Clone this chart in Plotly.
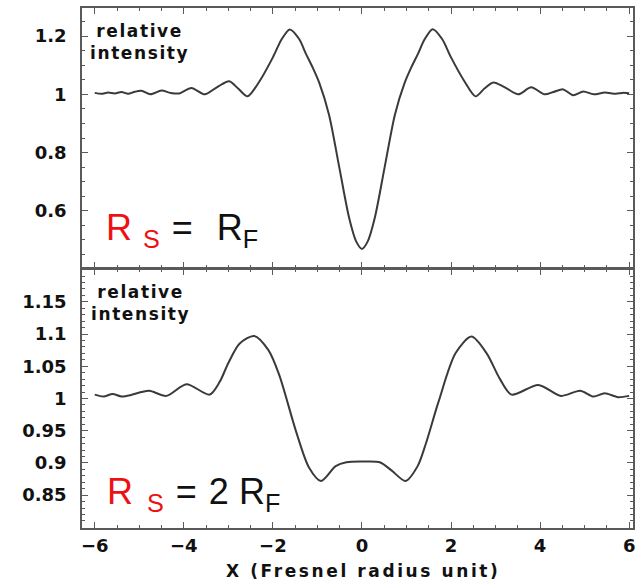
import plotly.graph_objects as go

# ---- data ----
x_top = [-6.0, -5.85, -5.7, -5.55, -5.4, -5.25, -5.1, -4.95, -4.75, -4.5, -4.3, -4.1,
         -3.83, -3.53, -3.25, -2.98, -2.78, -2.57, -2.3, -2.0, -1.8, -1.62, -1.41,
         -1.26, -1.1, -0.96, -0.74, -0.51, -0.29, -0.13, 0.0,
         0.13, 0.29, 0.51, 0.74, 0.96, 1.1, 1.26, 1.41, 1.59, 1.8, 2.0, 2.3, 2.55,
         2.75, 2.95, 3.2, 3.51, 3.8, 4.1, 4.3, 4.52, 4.74, 4.97, 5.2, 5.45, 5.7,
         5.85, 6.0]
y_top = [1.005, 1.002, 1.006, 1.003, 1.008, 1.002, 1.009, 1.012, 1.0, 1.013, 1.005, 1.003,
         1.022, 1.0, 1.025, 1.045, 1.02, 0.993, 1.045, 1.127, 1.19, 1.223, 1.19,
         1.14, 1.09, 1.04, 0.93, 0.75, 0.577, 0.495, 0.469,
         0.495, 0.577, 0.75, 0.93, 1.04, 1.09, 1.14, 1.19, 1.224, 1.19, 1.127, 1.045, 0.993,
         1.02, 1.041, 1.025, 1.0, 1.024, 1.0, 1.008, 1.017, 0.997, 1.01, 1.0, 1.006, 1.002,
         1.005, 1.004]

x_bot = [-6.0, -5.8, -5.6, -5.4, -5.2, -4.95, -4.77, -4.39, -3.94, -3.42, -3.2, -3.0,
         -2.75, -2.42, -2.1, -1.86, -1.48, -1.19, -0.92, -0.59, -0.35, 0.0, 0.4, 0.67,
         0.98, 1.25, 1.43, 1.72, 2.1, 2.46, 2.8, 3.1, 3.36, 3.96, 4.47, 4.9, 5.2, 5.45,
         5.75, 6.0]
y_bot = [1.006, 1.003, 1.007, 1.003, 1.005, 1.01, 1.012, 1.004, 1.022, 1.006, 1.025, 1.055,
         1.085, 1.097, 1.075, 1.037, 0.949, 0.893, 0.872, 0.895, 0.901, 0.902, 0.901, 0.888,
         0.872, 0.895, 0.929, 0.995, 1.07, 1.096, 1.07, 1.03, 1.006, 1.021, 1.004, 1.012,
         1.003, 1.008, 1.002, 1.004]

x_ticks = [-6, -4, -2, 0, 2, 4, 6]
y_top_ticks = [0.6, 0.8, 1.0, 1.2]
y_bot_ticks = [0.85, 0.9, 0.95, 1.0, 1.05, 1.1, 1.15]

x_range = [-6.286, 6.086]
y_top_range = [0.4034, 1.2966]
y_bot_range = [0.799, 1.2008]

LINE = "#3a3a3a"
AX = "#5a5a5a"
TICKFONT = dict(family="DejaVu Sans", size=18, color="#111111", weight="bold")

fig = go.Figure()
fig.add_trace(go.Scatter(x=x_top, y=y_top, mode="lines", xaxis="x", yaxis="y",
                         line=dict(color=LINE, width=2, shape="spline", smoothing=0.8),
                         showlegend=False, hoverinfo="skip"))
fig.add_trace(go.Scatter(x=x_bot, y=y_bot, mode="lines", xaxis="x2", yaxis="y2",
                         line=dict(color=LINE, width=2, shape="spline", smoothing=0.8),
                         showlegend=False, hoverinfo="skip"))

common_x = dict(range=x_range, showline=True, linecolor=AX, linewidth=1.5, mirror="ticks",
                ticks="inside", ticklen=6, tickcolor=AX, tickwidth=1.2,
                tickmode="array", tickvals=x_ticks,
                minor=dict(ticks="inside", dtick=0.5, tick0=0, ticklen=3, tickcolor=AX,
                           tickwidth=1),
                showgrid=False, zeroline=False, tickfont=TICKFONT, fixedrange=True)
common_y = dict(showline=True, linecolor=AX, linewidth=1.5, mirror="ticks",
                ticks="inside", ticklen=6, tickcolor=AX, tickwidth=1.2, tickmode="array",
                showgrid=False, zeroline=False, tickfont=TICKFONT, fixedrange=True,
                ticklabelstandoff=10)

fig.update_layout(
    width=637, height=582,
    margin=dict(l=82, r=2, t=8, b=54),
    paper_bgcolor="white", plot_bgcolor="white",
    xaxis=dict(common_x, anchor="y", showticklabels=False),
    yaxis=dict(common_y, domain=[0.5, 1.0], range=y_top_range, tickvals=y_top_ticks,
               ticktext=[("%g" % v) for v in y_top_ticks],
               minor=dict(ticks="inside", dtick=0.05, tick0=0, ticklen=3, tickcolor=AX,
                          tickwidth=1)),
    xaxis2=dict(common_x, anchor="y2", ticklabelstandoff=1),
    yaxis2=dict(common_y, domain=[0.0, 0.498], range=y_bot_range, tickvals=y_bot_ticks,
                ticktext=[("%g" % v) for v in y_bot_ticks],
                minor=dict(ticks="inside", dtick=0.01, tick0=0, ticklen=3, tickcolor=AX,
                           tickwidth=1)),
)

SMALL = dict(family="DejaVu Sans", size=17, color="#111111", weight="bold")
rel = "<span style='letter-spacing:1.6px'>relative<br>intensity</span>"
fig.add_annotation(xref="paper", yref="paper", x=0.105, y=0.935, text=rel, showarrow=False,
                   xanchor="center", yanchor="middle", align="center", font=SMALL)
fig.add_annotation(xref="paper", yref="paper", x=0.107, y=0.433, text=rel, showarrow=False,
                   xanchor="center", yanchor="middle", align="center", font=SMALL)

BIG = dict(family="Liberation Sans", size=36, color="#111111")
RED = "#ee1111"
t1 = ("<span style='color:%s'><span style='letter-spacing:11px'>R</span>"
      "<sub style='letter-spacing:12px'>S</sub></span>"
      "<span style='letter-spacing:24px'>=</span>R<sub>F</sub>") % RED
t2 = ("<span style='color:%s'><span style='letter-spacing:14px'>R</span>"
      "<sub style='letter-spacing:12px'>S</sub></span>"
      "<span style='letter-spacing:12px'>=</span>"
      "<span style='letter-spacing:10px'>2</span>R<sub>F</sub>") % RED
fig.add_annotation(xref="paper", yref="paper", x=0.04, y=0.5735, text=t1, showarrow=False,
                   xanchor="left", yanchor="middle", font=BIG)
fig.add_annotation(xref="paper", yref="paper", x=0.042, y=0.066, text=t2, showarrow=False,
                   xanchor="left", yanchor="middle", font=BIG)

fig.add_annotation(xref="paper", yref="paper", x=0.51, y=-0.083,
                   text="<span style='letter-spacing:2.6px'>X (Fresnel radius unit)</span>",
                   showarrow=False, xanchor="center", yanchor="middle",
                   font=dict(family="DejaVu Sans", size=17, color="#111111", weight="bold"))

fig.write_html("out.html")
